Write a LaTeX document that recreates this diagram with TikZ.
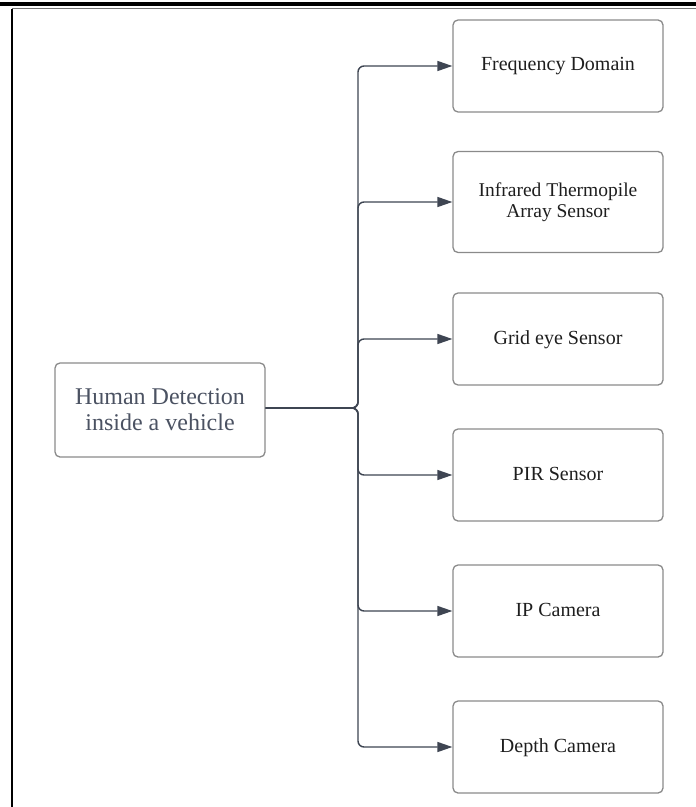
\documentclass[tikz,border=0pt]{standalone}
\usepackage{fontspec}
\setmainfont{Liberation Serif}
\usetikzlibrary{arrows.meta}
\definecolor{boxline}{HTML}{8A8A8A}
\definecolor{connline}{HTML}{3E4552}
\definecolor{srctext}{HTML}{4B5262}
\definecolor{tgttext}{HTML}{1E1E1E}
\tikzset{
  srcbox/.style={draw=boxline, line width=1.3bp, rounded corners=5bp,
    minimum width=210bp, minimum height=94bp, align=center,
    text=srctext, font=\fontsize{24bp}{26bp}\selectfont},
  tgtbox/.style={draw=boxline, line width=1.3bp, rounded corners=5bp,
    minimum width=210bp, minimum height=92bp, align=center,
    text height=14bp, text depth=4bp,
    text=tgttext, font=\fontsize{20bp}{21bp}\selectfont},
  conn/.style={draw=connline, line width=1.4bp, rounded corners=6bp,
    -{Triangle[length=15bp,width=10bp]}},
}
\begin{document}
\begin{tikzpicture}[x=1bp,y=-1bp]
\useasboundingbox (0,0) rectangle (696,807);
% page frame: heavy top rule, thin rule below it, left rule
\draw[black, line width=4bp] (0,4) -- (696,4);
\draw[black!55, line width=1bp] (12,9) -- (696,9);
\draw[black, line width=2bp] (12,9) -- (12,807);

\node[srcbox] (src) at (160,410) {Human Detection\\inside a vehicle};

\node[tgtbox] (t1) at (558,66)  {Frequency Domain};
\node[tgtbox, minimum height=101bp, text height=, text depth=,
  font=\fontsize{19.5bp}{20.5bp}\selectfont] (t2) at (558,202) {Infrared Thermopile\\Array Sensor};
\node[tgtbox] (t3) at (558,339) {Grid eye Sensor};
\node[tgtbox] (t4) at (558,475) {PIR Sensor};
\node[tgtbox] (t5) at (558,611) {IP Camera};
\node[tgtbox] (t6) at (558,747) {Depth Camera};

\coordinate (trunk) at (358,408);
\foreach \t in {t1,t2,t3,t4,t5,t6}{
  \draw[conn] (src.east |- trunk) -- (trunk) |- (\t.west);
}
\end{tikzpicture}
\end{document}
